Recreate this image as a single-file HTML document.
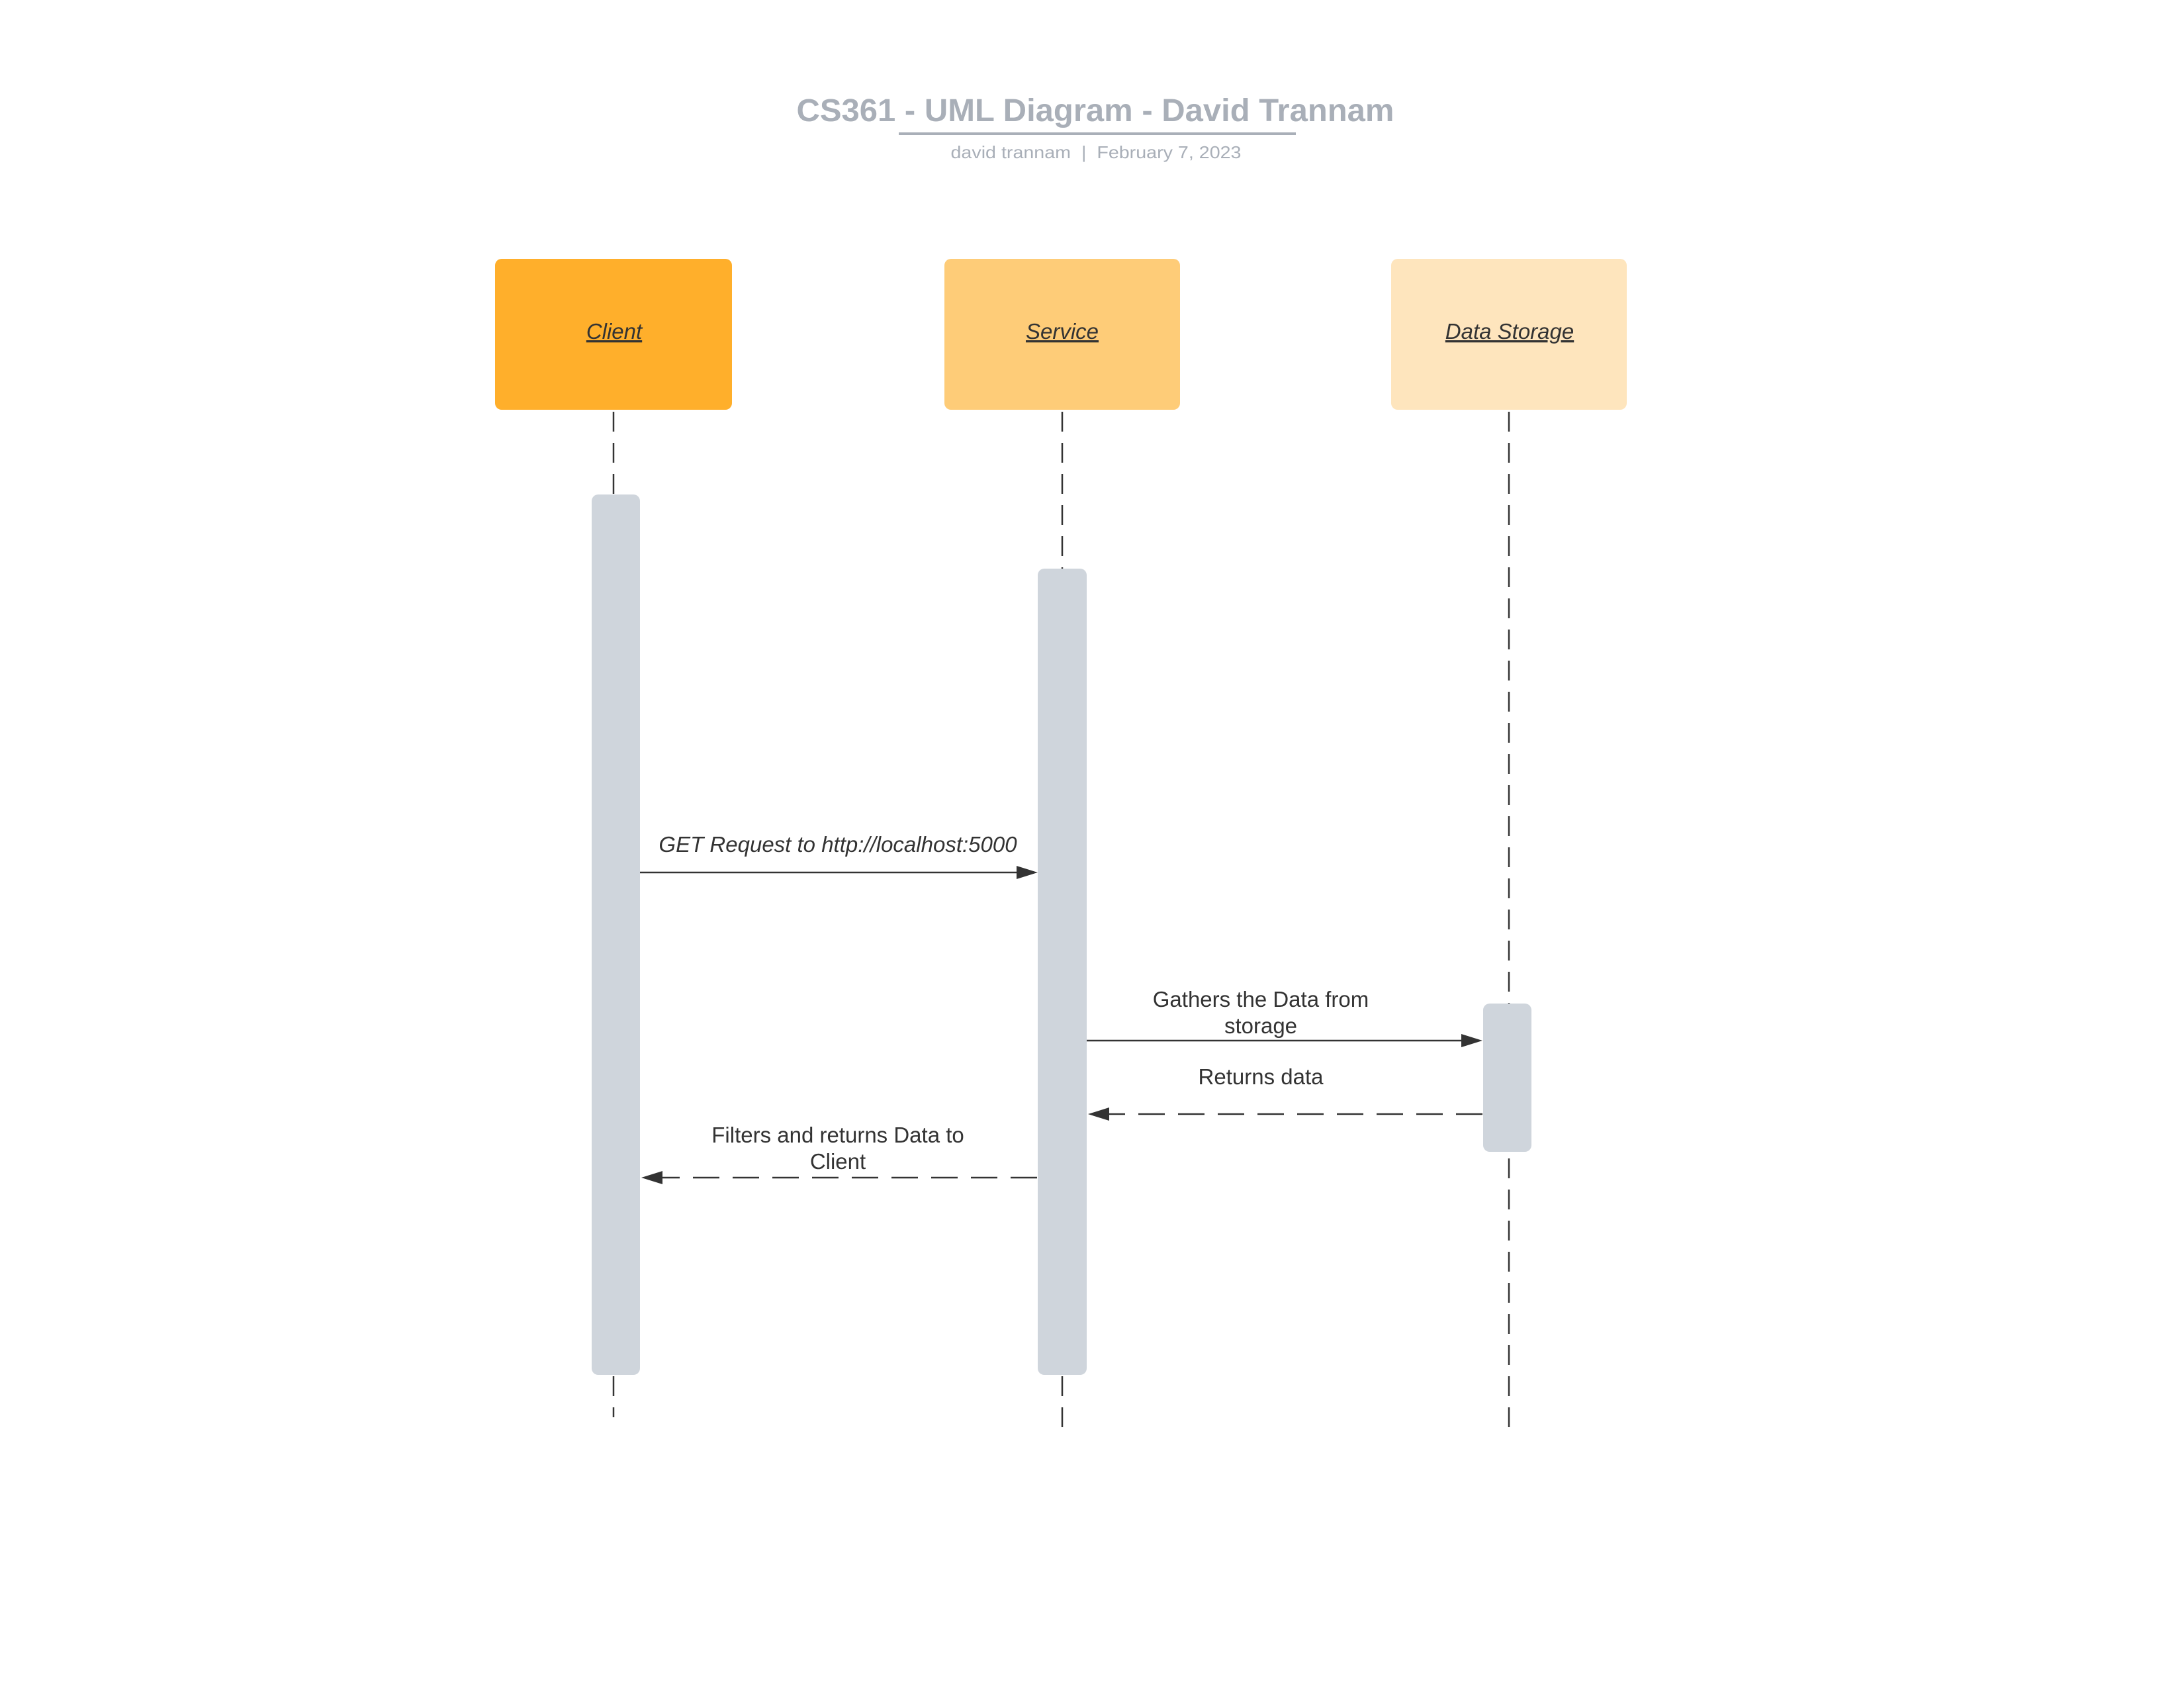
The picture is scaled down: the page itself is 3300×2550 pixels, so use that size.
<!DOCTYPE html>
<html><head><meta charset="utf-8"><style>
html,body{margin:0;padding:0;background:#fff;}
svg{display:block;}
text{font-family:"Liberation Sans",Arial,sans-serif;}
</style></head><body>
<svg width="3300" height="2550" viewBox="0 0 3300 2550" xmlns="http://www.w3.org/2000/svg">
<rect width="3300" height="2550" fill="#fff"/>
<text x="1655" y="183" text-anchor="middle" font-size="48" font-weight="bold" fill="#A9AFB8" textLength="903" lengthAdjust="spacingAndGlyphs">CS361 - UML Diagram - David Trannam</text>
<rect x="1358" y="200" width="600" height="4" fill="#A9AFB8"/>
<text x="1656" y="239" text-anchor="middle" font-size="26" fill="#A9AFB8" textLength="439" lengthAdjust="spacingAndGlyphs">david trannam&#160;&#160;|&#160;&#160;February 7, 2023</text>

<g stroke="#333" stroke-width="2.5" stroke-dasharray="30 17" fill="none">
<line x1="927" y1="622" x2="927" y2="2141"/>
<line x1="1605" y1="622" x2="1605" y2="2158"/>
<line x1="2280" y1="622" x2="2280" y2="2158"/>
</g>

<rect x="748" y="391" width="358" height="228" rx="10" fill="#FFAF2B"/>
<rect x="1427" y="391" width="356" height="228" rx="10" fill="#FECC78"/>
<rect x="2102" y="391" width="356" height="228" rx="10" fill="#FEE5BD"/>
<g font-size="33" font-style="italic" fill="#333" text-anchor="middle" text-decoration="underline">
<text x="928" y="512">Client</text>
<text x="1605" y="512">Service</text>
<text x="2281" y="512">Data Storage</text>
</g>

<rect x="894" y="747" width="73" height="1330" rx="10" fill="#CFD5DC"/>
<rect x="1568" y="859" width="74" height="1218" rx="10" fill="#CFD5DC"/>
<rect x="2241" y="1516" width="73" height="224" rx="10" fill="#CFD5DC"/>

<g stroke="#333" stroke-width="2.5" fill="none">
<line x1="967" y1="1318" x2="1540" y2="1318"/>
<line x1="1642" y1="1572" x2="2212" y2="1572"/>
<line x1="2240" y1="1683" x2="1672" y2="1683" stroke-dasharray="40 20"/>
<line x1="1567" y1="1779" x2="997" y2="1779" stroke-dasharray="40 20"/>
</g>
<g fill="#333">
<polygon points="1568,1318 1536,1308 1536,1328"/>
<polygon points="2240,1572 2208,1562 2208,1582"/>
<polygon points="1644,1683 1676,1673 1676,1693"/>
<polygon points="969,1779 1001,1769 1001,1789"/>
</g>

<g font-size="33" fill="#333" text-anchor="middle">
<text x="1266" y="1287" font-style="italic">GET Request to http://localhost:5000</text>
<text x="1905" y="1521">Gathers the Data from</text>
<text x="1905" y="1561">storage</text>
<text x="1905" y="1638">Returns data</text>
<text x="1266" y="1726">Filters and returns Data to</text>
<text x="1266" y="1766">Client</text>
</g>
</svg>
</body></html>
